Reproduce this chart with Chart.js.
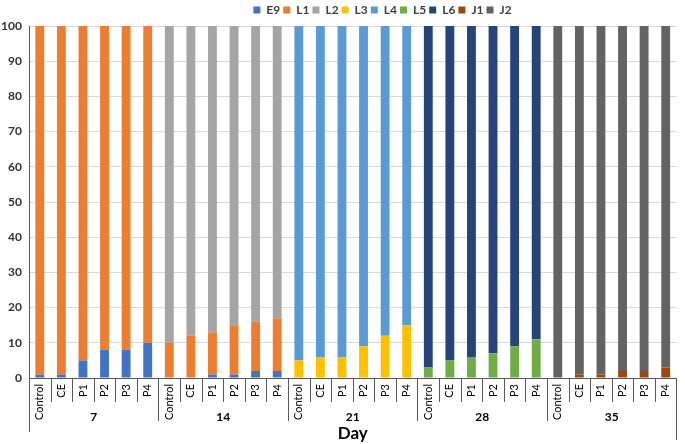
<!DOCTYPE html>
<html>
<head>
<meta charset="utf-8">
<script src="https://cdn.jsdelivr.net/npm/chart.js@4"></script>
<style>
  html, body { margin: 0; padding: 0; background: #fff; }
  .div__grafico { width: 685px; height: 444px; }
</style>
</head>
<body>
<div class="div__grafico"><canvas id="grafico"></canvas></div>
<script>
const tratamentos = ['Control', 'CE', 'P1', 'P2', 'P3', 'P4']
const dias = ['7', '14', '21', '28', '35']
const estagios = ['E9', 'L1', 'L2', 'L3', 'L4', 'L5', 'L6', 'J1', 'J2']
const cores = ['#4472C4', '#ED7D31', '#A5A5A5', '#FFC000', '#5B9BD5', '#70AD47', '#264478', '#9E480E', '#636363']

// 30 barras: 6 tratamentos x 5 dias
const valoresE9 = [1, 1, 5, 8, 8, 10,  0, 0, 1, 1, 2, 2,  0, 0, 0, 0, 0, 0,  0, 0, 0, 0, 0, 0,  0, 0, 0, 0, 0, 0]
const valoresL1 = [99, 99, 95, 92, 92, 90,  10, 12, 12, 14, 14, 15,  0, 0, 0, 0, 0, 0,  0, 0, 0, 0, 0, 0,  0, 0, 0, 0, 0, 0]
const valoresL2 = [0, 0, 0, 0, 0, 0,  90, 88, 87, 85, 84, 83,  0, 0, 0, 0, 0, 0,  0, 0, 0, 0, 0, 0,  0, 0, 0, 0, 0, 0]
const valoresL3 = [0, 0, 0, 0, 0, 0,  0, 0, 0, 0, 0, 0,  5, 6, 6, 9, 12, 15,  0, 0, 0, 0, 0, 0,  0, 0, 0, 0, 0, 0]
const valoresL4 = [0, 0, 0, 0, 0, 0,  0, 0, 0, 0, 0, 0,  95, 94, 94, 91, 88, 85,  0, 0, 0, 0, 0, 0,  0, 0, 0, 0, 0, 0]
const valoresL5 = [0, 0, 0, 0, 0, 0,  0, 0, 0, 0, 0, 0,  0, 0, 0, 0, 0, 0,  3, 5, 6, 7, 9, 11,  0, 0, 0, 0, 0, 0]
const valoresL6 = [0, 0, 0, 0, 0, 0,  0, 0, 0, 0, 0, 0,  0, 0, 0, 0, 0, 0,  97, 95, 94, 93, 91, 89,  0, 0, 0, 0, 0, 0]
const valoresJ1 = [0, 0, 0, 0, 0, 0,  0, 0, 0, 0, 0, 0,  0, 0, 0, 0, 0, 0,  0, 0, 0, 0, 0, 0,  0, 1, 1, 2, 2, 3]
const valoresJ2 = [0, 0, 0, 0, 0, 0,  0, 0, 0, 0, 0, 0,  0, 0, 0, 0, 0, 0,  0, 0, 0, 0, 0, 0,  100, 99, 99, 98, 98, 97]

const series = [valoresE9, valoresL1, valoresL2, valoresL3, valoresL4, valoresL5, valoresL6, valoresJ1, valoresJ2]
const rotulos = dias.flatMap(() => tratamentos)

const fonte = "'Lato', 'Liberation Sans', sans-serif"

// linhas separadoras abaixo do eixo x e deslocamento da legenda
const separadores = {
  id: 'separadores',
  afterLayout(chart) {
    chart.legend.left += 43
    chart.legend.right += 43
  },
  afterDraw(chart) {
    const ctx = chart.ctx
    const xs = chart.scales.x
    const base = chart.chartArea.bottom
    const n = rotulos.length
    ctx.save()
    ctx.strokeStyle = '#595959'
    ctx.lineWidth = 1
    for (let i = 0; i <= n; i++) {
      let x
      if (i === 0) x = xs.left
      else if (i === n) x = xs.right
      else x = (xs.getPixelForValue(i - 1) + xs.getPixelForValue(i)) / 2
      let fim = 402
      if (i === 0) fim = 432
      else if (i === n) fim = 440
      else if (i % tratamentos.length === 0) fim = 421
      x = Math.round(x) + 0.5
      ctx.beginPath()
      ctx.moveTo(x, base)
      ctx.lineTo(x, fim)
      ctx.stroke()
    }
    ctx.restore()
  }
}

const $ctx = document.getElementById('grafico')

new Chart($ctx, {
  type: 'bar',
  data: {
    labels: rotulos,
    datasets: estagios.map((nome, i) => ({
      label: nome,
      data: series[i],
      backgroundColor: cores[i],
      barPercentage: 0.41,
      categoryPercentage: 1
    }))
  },
  options: {
    responsive: true,
    maintainAspectRatio: false,
    animation: false,
    layout: { padding: { top: 1, right: 6, bottom: 0, left: 0 } },
    plugins: {
      legend: {
        position: 'top',
        labels: {
          boxWidth: 7,
          boxHeight: 7,
          padding: 3,
          color: '#404040',
          font: { family: fonte, size: 12, weight: 'bold' }
        }
      },
      tooltip: { enabled: false }
    },
    scales: {
      x: {
        stacked: true,
        grid: { display: false, drawTicks: false },
        border: { display: true, color: '#595959' },
        ticks: {
          minRotation: 90,
          maxRotation: 90,
          autoSkip: false,
          padding: 6,
          color: '#000',
          font: { family: fonte, size: 11 }
        },
        afterFit: (scale) => { scale.height = 44 }
      },
      x2: {
        type: 'category',
        labels: dias,
        position: 'bottom',
        grid: { display: false, drawTicks: false },
        border: { display: false },
        ticks: {
          mirror: true,
          padding: -2,
          color: '#000',
          font: { family: fonte, size: 12, weight: 'bold' }
        },
        title: {
          display: true,
          text: 'Day',
          color: '#000',
          padding: { top: 0, bottom: 0 },
          font: { family: fonte, size: 17, weight: 'bold' }
        },
        afterFit: (scale) => { scale.height = 22 }
      },
      y: {
        stacked: true,
        min: 0,
        max: 100,
        grid: { color: '#d9d9d9', drawTicks: false },
        border: { display: true, color: '#595959' },
        ticks: {
          stepSize: 10,
          padding: 7,
          color: '#333',
          font: { family: fonte, size: 12, weight: 'bold' }
        },
        afterFit: (scale) => { scale.width = 29 }
      }
    }
  },
  plugins: [separadores]
})
</script>
</body>
</html>
